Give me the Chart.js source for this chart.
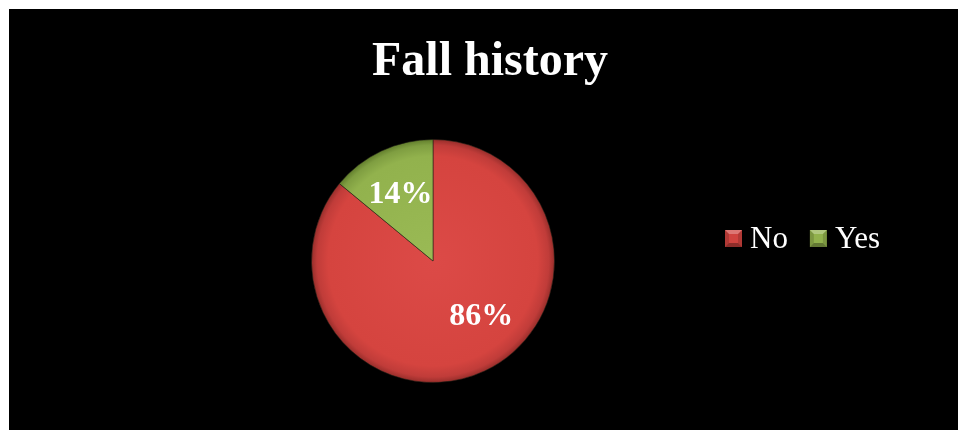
<!DOCTYPE html>
<html>
<head>
<meta charset="utf-8">
<script src="https://cdn.jsdelivr.net/npm/chart.js@4.4.1/dist/chart.umd.min.js"></script>
<style>
  html, body { margin: 0; padding: 0; background: #ffffff; }
  #frame {
    position: absolute; left: 9px; top: 9px;
    width: 949px; height: 421px; background: #000000;
  }
</style>
</head>
<body>
<div id="frame"><canvas id="chart"></canvas></div>
<script>
// Fall history answers (percent of respondents)
const chartTitle = 'Fall history';
const categories = ['No', 'Yes'];
const shares = [86, 14];

// slice palette: [centre, body, rim, edge]
const sliceShades = [
  ['#dc4a47', '#d5443f', '#c03c39', '#952d2a'],
  ['#9aba55', '#92b24d', '#7f9e41', '#607c2b']
];
const keyColors = ['#d0433f', '#92b24d'];

// where each percentage sits inside its slice: fraction of the slice angle, fraction of radius
const labelSpots = [
  { along: 0.445, out: 0.59 },
  { along: 0.5, out: 0.63 }
];

const serif = '"Liberation Serif", "Times New Roman", serif';

function sliceFill(ctx) {
  const chart = ctx.chart;
  const area = chart.chartArea;
  const shade = sliceShades[ctx.dataIndex % sliceShades.length];
  if (!area) return shade[1];
  const cx = (area.left + area.right) / 2;
  const cy = (area.top + area.bottom) / 2;
  const r = Math.min(area.right - area.left, area.bottom - area.top) / 2;
  const g = chart.ctx.createRadialGradient(cx, cy, 0, cx, cy, r);
  g.addColorStop(0, shade[0]);
  g.addColorStop(0.86, shade[1]);
  g.addColorStop(0.95, shade[2]);
  g.addColorStop(1, shade[3]);
  return g;
}

// title, percentage labels and the horizontal key
const decorations = {
  id: 'decorations',
  afterDatasetsDraw(chart) {
    const c = chart.ctx;
    const meta = chart.getDatasetMeta(0);
    const total = shares.reduce((a, b) => a + b, 0);

    c.save();
    // title
    c.fillStyle = '#ffffff';
    c.font = 'bold 48px ' + serif;
    c.textAlign = 'center';
    c.textBaseline = 'alphabetic';
    c.fillText(chartTitle, 481, 66);

    // percentage labels
    c.font = 'bold 32px ' + serif;
    c.textBaseline = 'middle';
    meta.data.forEach((arc, i) => {
      const p = arc.getProps(['x', 'y', 'startAngle', 'endAngle', 'outerRadius'], true);
      const spot = labelSpots[i];
      const a = p.startAngle + (p.endAngle - p.startAngle) * spot.along;
      const r = p.outerRadius * spot.out;
      const pct = Math.round(shares[i] / total * 100) + '%';
      c.fillText(pct, p.x + Math.cos(a) * r, p.y + Math.sin(a) * r + 3);
    });

    // key
    c.font = '31px ' + serif;
    c.textAlign = 'left';
    c.textBaseline = 'alphabetic';
    let x = 716;
    const box = 17, top = 221, base = 239;
    categories.forEach((name, i) => {
      const col = keyColors[i];
      c.fillStyle = col;
      c.fillRect(x, top, box, box);
      // bevelled marker
      const inset = 4;
      c.fillStyle = 'rgba(255,255,255,0.28)';
      c.beginPath(); c.moveTo(x, top); c.lineTo(x + box, top); c.lineTo(x + box - inset, top + inset); c.lineTo(x + inset, top + inset); c.closePath(); c.fill();
      c.fillStyle = 'rgba(0,0,0,0.32)';
      c.beginPath(); c.moveTo(x, top + box); c.lineTo(x + box, top + box); c.lineTo(x + box - inset, top + box - inset); c.lineTo(x + inset, top + box - inset); c.closePath(); c.fill();
      c.fillStyle = 'rgba(0,0,0,0.15)';
      c.beginPath(); c.moveTo(x, top); c.lineTo(x, top + box); c.lineTo(x + inset, top + box - inset); c.lineTo(x + inset, top + inset); c.closePath(); c.fill();
      c.beginPath(); c.moveTo(x + box, top); c.lineTo(x + box, top + box); c.lineTo(x + box - inset, top + box - inset); c.lineTo(x + box - inset, top + inset); c.closePath(); c.fill();
      c.fillStyle = '#ffffff';
      c.fillText(name, x + box + 8, base);
      x += box + 8 + c.measureText(name).width + 22;
    });
    c.restore();
  }
};

new Chart(document.getElementById('chart'), {
  type: 'pie',
  data: {
    labels: categories,
    datasets: [{
      data: shares,
      backgroundColor: sliceFill,
      borderColor: 'rgba(30,30,20,0.55)',
      borderWidth: 1
    }]
  },
  options: {
    responsive: true,
    maintainAspectRatio: false,
    animation: false,
    layout: { padding: { left: 302, right: 403, top: 130, bottom: 47 } },
    plugins: {
      legend: { display: false },
      title: { display: false },
      tooltip: { enabled: false }
    }
  },
  plugins: [decorations]
});
</script>
</body>
</html>
